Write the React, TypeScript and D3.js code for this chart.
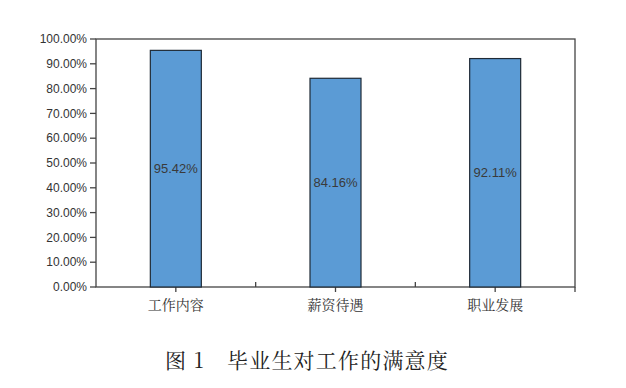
import React, { useEffect, useRef } from 'react'
import * as d3 from 'd3'

const categories = ['工作内容', '薪资待遇', '职业发展']
const values = [95.42, 84.16, 92.11]
const yTicks = [0, 10, 20, 30, 40, 50, 60, 70, 80, 90, 100]
const title = '图 1　毕业生对工作的满意度'

const W = 626
const H = 388
const margin = { top: 39, right: 51, bottom: 101, left: 96 }

const App = () => {
  const ref = useRef<SVGGElement>(null)

  useEffect(() => {
    const g = d3.select(ref.current)
    g.selectAll('*').remove()
    const iw = W - margin.left - margin.right
    const ih = H - margin.top - margin.bottom

    const x = d3.scaleBand().domain(categories).range([0, iw]).paddingInner(0).paddingOuter(0)
    const y = d3.scaleLinear().domain([0, 100]).range([ih, 0])
    const barW = 51

    // frame
    g.append('rect')
      .attr('x', 0).attr('y', 0).attr('width', iw).attr('height', ih)
      .attr('fill', 'white').attr('stroke', '#444').attr('stroke-width', 1.3)

    // y ticks
    const yt = g.selectAll('g.yt').data(yTicks).join('g').attr('class', 'yt')
      .attr('transform', (d) => `translate(0,${y(d)})`)
    yt.append('line').attr('x1', -6).attr('x2', 0).attr('stroke', '#444').attr('stroke-width', 1.3)
    yt.append('text')
      .attr('x', -9).attr('dy', '0.35em').attr('text-anchor', 'end')
      .style('font-family', '"Liberation Sans", Arial, sans-serif')
      .style('font-size', '12px').attr('fill', '#333')
      .text((d) => d3.format('.2f')(d) + '%')

    // x ticks: boundaries (upward) and centers (downward)
    g.selectAll('line.xb').data(categories.slice(1)).join('line').attr('class', 'xb')
      .attr('x1', (d) => x(d)!).attr('x2', (d) => x(d)!)
      .attr('y1', ih).attr('y2', ih - 5).attr('stroke', '#444').attr('stroke-width', 1.3)
    g.append('line').attr('x1', iw).attr('x2', iw).attr('y1', ih).attr('y2', ih + 5)
      .attr('stroke', '#444').attr('stroke-width', 1.3)
    g.selectAll('line.xc').data(categories).join('line').attr('class', 'xc')
      .attr('x1', (d) => x(d)! + x.bandwidth() / 2).attr('x2', (d) => x(d)! + x.bandwidth() / 2)
      .attr('y1', ih).attr('y2', ih + 5).attr('stroke', '#444').attr('stroke-width', 1.3)

    // bars
    g.selectAll('rect.bar').data(values).join('rect').attr('class', 'bar')
      .attr('x', (d, i) => x(categories[i])! + x.bandwidth() / 2 - barW / 2)
      .attr('y', (d) => y(d))
      .attr('width', barW)
      .attr('height', (d) => ih - y(d))
      .attr('fill', '#5b9bd5').attr('stroke', '#1f2a36').attr('stroke-width', 1.2)

    // data labels
    g.selectAll('text.lbl').data(values).join('text').attr('class', 'lbl')
      .attr('x', (d, i) => x(categories[i])! + x.bandwidth() / 2)
      .attr('y', (d) => y(d / 2))
      .attr('dy', '0.35em').attr('text-anchor', 'middle')
      .style('font-family', '"Liberation Sans", Arial, sans-serif')
      .style('font-size', '13px').attr('fill', '#3a3a3a')
      .text((d) => d3.format('.2f')(d) + '%')

    // category labels
    g.selectAll('text.cat').data(categories).join('text').attr('class', 'cat')
      .attr('x', (d) => x(d)! + x.bandwidth() / 2)
      .attr('y', ih + 23)
      .attr('text-anchor', 'middle')
      .style('font-family', '"Noto Serif CJK SC", "Noto Sans CJK SC", serif')
      .style('font-size', '14px').attr('fill', '#333')
      .text((d) => d)
  }, [])

  return (
    <svg width={W} height={H} style={{ position: 'absolute', left: 0, top: 0, background: 'white' }}>
      <g ref={ref} transform={`translate(${margin.left},${margin.top})`} />
      <text
        x={307}
        y={368}
        textAnchor="middle"
        style={{ fontFamily: '"Noto Serif CJK SC", "Noto Sans CJK SC", serif', fontSize: '21px', letterSpacing: '1.2px' }}
        fill="#222"
      >
        {title}
      </text>
    </svg>
  )
}

export default App
